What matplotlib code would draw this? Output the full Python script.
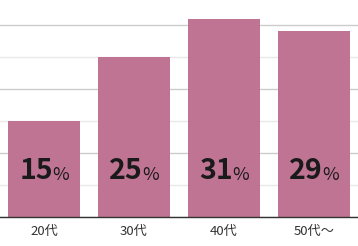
import matplotlib
matplotlib.use("Agg")
import matplotlib.pyplot as plt
from matplotlib.ticker import MultipleLocator

plt.rcParams['font.family'] = ['Noto Sans CJK JP', 'DejaVu Sans']

# data
categories = ["20代", "30代", "40代", "50代〜"]
values = [15, 25, 31, 29]

bar_color = "#c07494"

fig = plt.figure(figsize=(3.58, 2.46), dpi=100)
ax = fig.add_axes([0, 0.118, 1, 0.882])

x = list(range(len(categories)))
ax.bar(x, values, width=0.8, color=bar_color, zorder=2)

ax.set_xlim(-0.489, 3.489)
ax.set_ylim(0, 33.9)

# alternating grid lines
ax.yaxis.set_major_locator(MultipleLocator(10))
ax.yaxis.set_minor_locator(MultipleLocator(5))
ax.grid(axis="y", which="major", color="#cccccc", linewidth=1, zorder=0)
ax.grid(axis="y", which="minor", color="#e8e8e8", linewidth=1, zorder=0)
ax.tick_params(axis="y", which="both", left=False, labelleft=False)

for s in ["top", "right", "left"]:
    ax.spines[s].set_visible(False)
ax.spines["bottom"].set_color("#333333")
ax.spines["bottom"].set_linewidth(1)

ax.set_xticks(x)
ax.set_xticklabels(categories, fontsize=9.5, color="#333333")
ax.tick_params(axis="x", length=0, pad=6)

# value labels inside bars
for xi, v in zip(x, values):
    ax.annotate(str(v), (xi, 7.2), xytext=(6.5, 0), textcoords="offset points",
                ha="right", va="center", fontsize=20.5, fontweight="bold",
                color="#1a1a1a", zorder=3)
    ax.annotate("%", (xi, 6.6), xytext=(5.8, 0), textcoords="offset points",
                ha="left", va="center", fontsize=13,
                color="#1a1a1a", zorder=3)

fig.savefig("out.png", dpi=100)
